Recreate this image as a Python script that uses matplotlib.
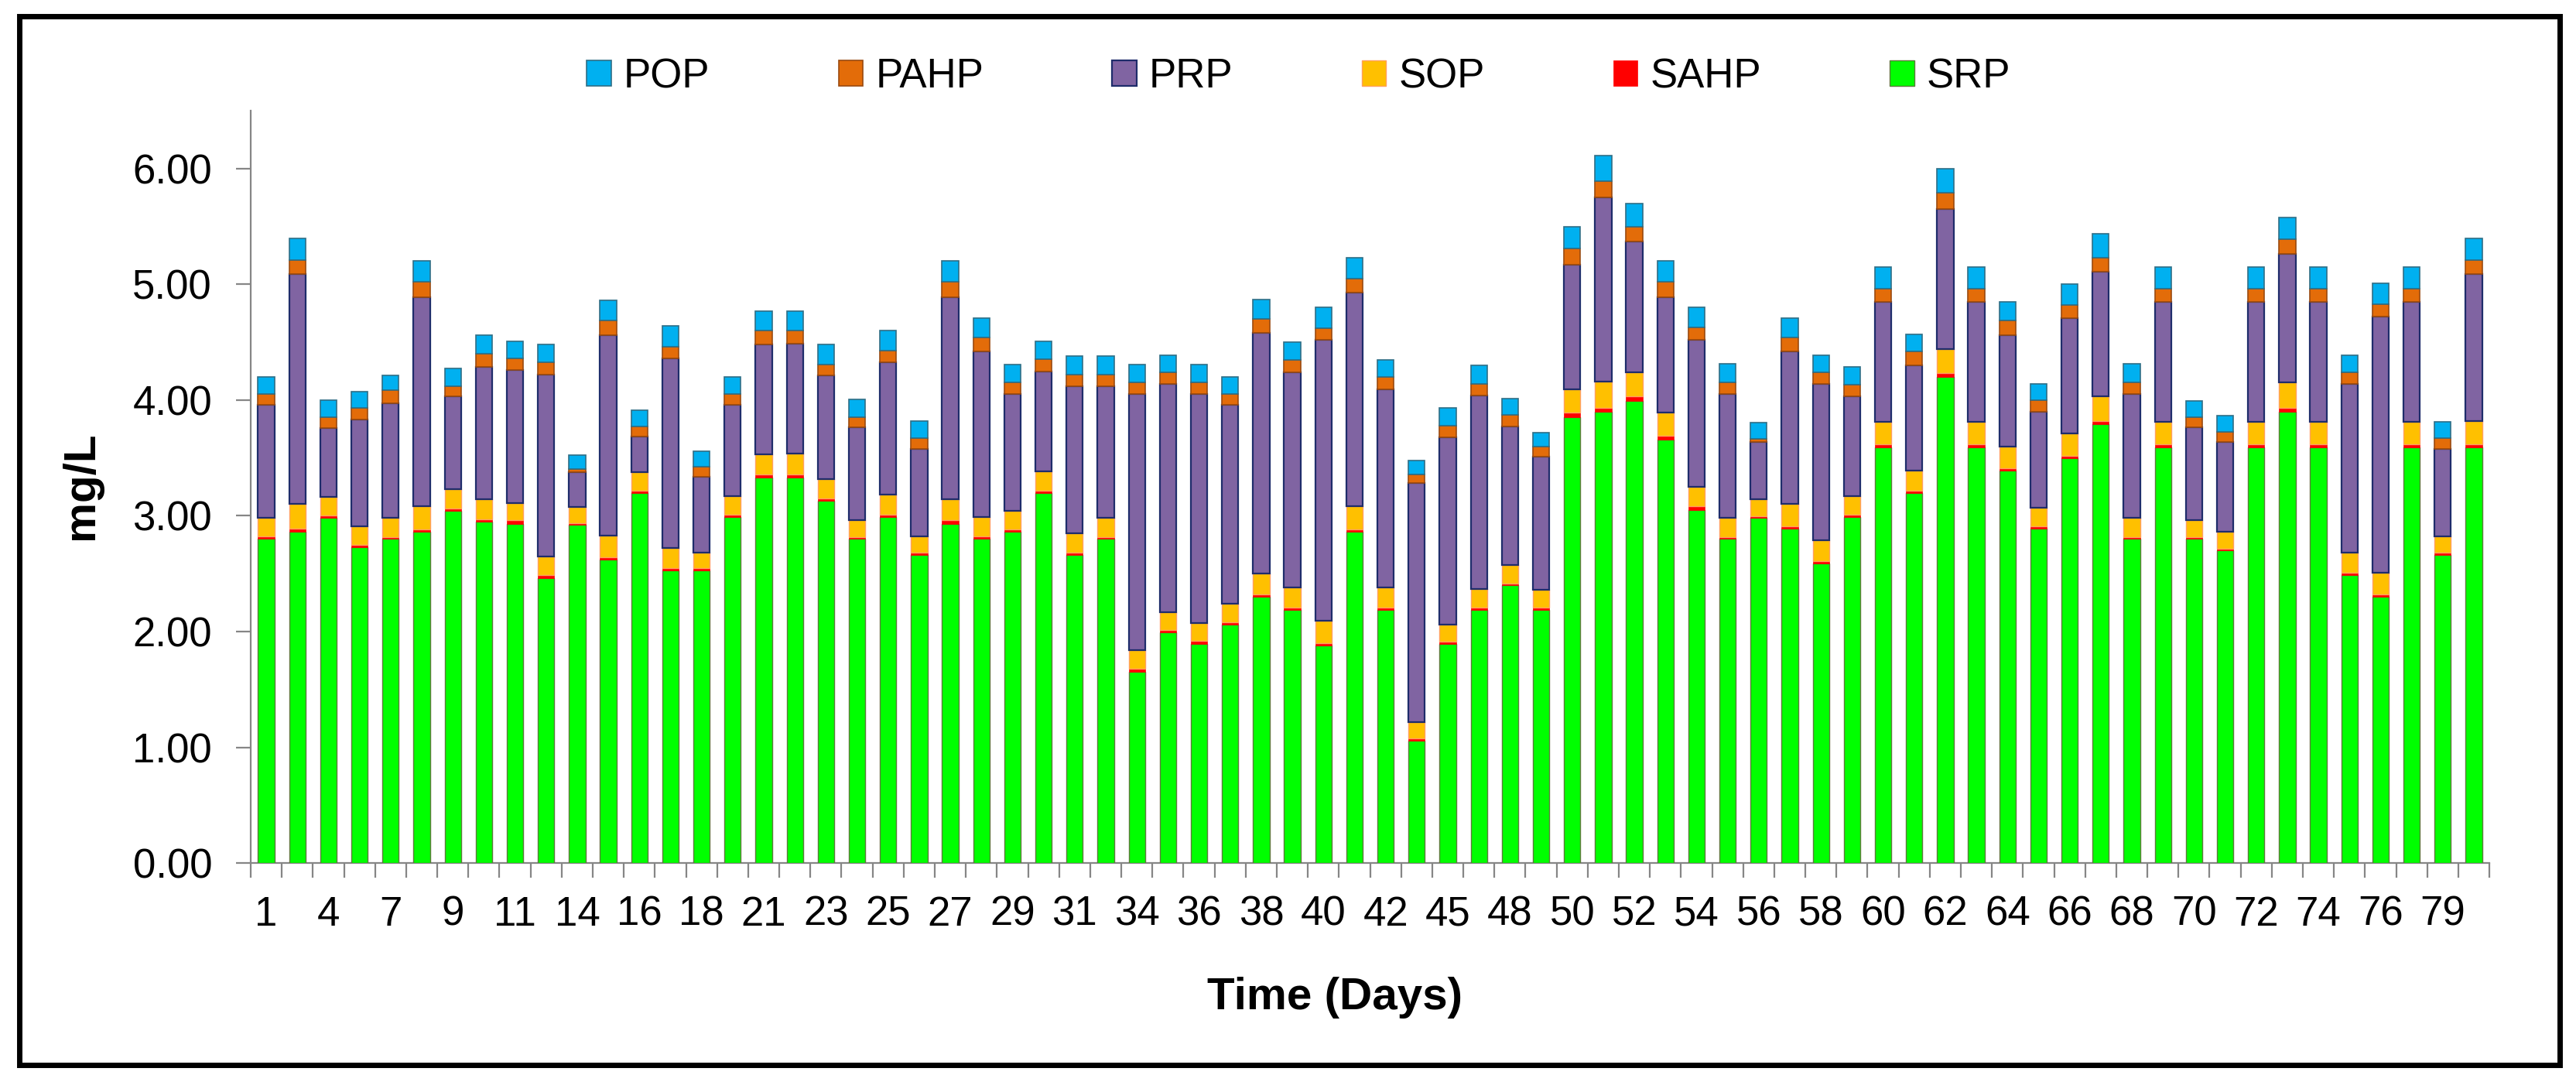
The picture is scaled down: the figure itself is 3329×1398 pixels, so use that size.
import numpy as np
import matplotlib
matplotlib.use("Agg")
import matplotlib.pyplot as plt
from matplotlib.patches import Rectangle

plt.rcParams['font.family'] = ['Liberation Sans', 'DejaVu Sans']

# sampling days (only every other one is labelled on the axis)
days = [1, 2, 4, 5, 7, 8, 9, 10, 11, 12, 14, 15, 16, 17, 18, 19, 21, 22, 23, 24,
        25, 26, 27, 28, 29, 30, 31, 32, 34, 35, 36, 37, 38, 39, 40, 41, 42, 43, 45, 46,
        48, 49, 50, 51, 52, 53, 54, 55, 56, 57, 58, 59, 60, 61, 62, 63, 64, 65, 66, 67,
        68, 69, 70, 71, 72, 73, 74, 75, 76, 77, 79, 80]

srp = [2.80, 2.86, 2.98, 2.73, 2.80, 2.86, 3.04, 2.95, 2.93, 2.46,
       2.92, 2.62, 3.20, 2.53, 2.53, 2.99, 3.33, 3.33, 3.13, 2.80,
       2.99, 2.66, 2.93, 2.80, 2.86, 3.20, 2.66, 2.80, 1.65, 1.99,
       1.89, 2.06, 2.30, 2.19, 1.88, 2.86, 2.19, 1.06, 1.89, 2.19,
       2.40, 2.19, 3.85, 3.90, 3.99, 3.66, 3.05, 2.80, 2.98, 2.89,
       2.59, 2.99, 3.59, 3.20, 4.20, 3.59, 3.39, 2.89, 3.50, 3.79,
       2.80, 3.59, 2.80, 2.70, 3.59, 3.90, 3.59, 2.49, 2.30, 3.59,
       2.66, 3.59]
sahp = [0.02, 0.03, 0.02, 0.02, 0.015, 0.02, 0.02, 0.02, 0.03, 0.03,
        0.015, 0.02, 0.015, 0.02, 0.015, 0.02, 0.03, 0.03, 0.02, 0.015,
        0.02, 0.02, 0.03, 0.02, 0.02, 0.015, 0.02, 0.015, 0.03, 0.02,
        0.03, 0.02, 0.02, 0.02, 0.02, 0.02, 0.02, 0.015, 0.02, 0.02,
        0.015, 0.02, 0.04, 0.03, 0.04, 0.03, 0.03, 0.015, 0.015, 0.02,
        0.02, 0.02, 0.03, 0.02, 0.03, 0.03, 0.02, 0.02, 0.02, 0.03,
        0.015, 0.03, 0.015, 0.015, 0.03, 0.03, 0.03, 0.02, 0.02, 0.03,
        0.02, 0.03]
sop = [0.16, 0.21, 0.16, 0.16, 0.17, 0.20, 0.17, 0.17, 0.15, 0.16,
       0.14, 0.19, 0.16, 0.17, 0.14, 0.16, 0.17, 0.18, 0.17, 0.15,
       0.17, 0.14, 0.18, 0.17, 0.16, 0.17, 0.17, 0.165, 0.16, 0.16,
       0.15, 0.16, 0.18, 0.17, 0.19, 0.20, 0.17, 0.14, 0.15, 0.16,
       0.16, 0.15, 0.20, 0.23, 0.21, 0.20, 0.17, 0.17, 0.15, 0.19,
       0.18, 0.16, 0.19, 0.17, 0.21, 0.19, 0.19, 0.16, 0.19, 0.21,
       0.17, 0.19, 0.15, 0.15, 0.19, 0.22, 0.19, 0.17, 0.19, 0.19,
       0.14, 0.20]
prp = [0.98, 1.99, 0.60, 0.92, 0.99, 1.81, 0.80, 1.15, 1.15, 1.57,
       0.30, 1.73, 0.31, 1.64, 0.65, 0.79, 0.95, 0.95, 0.89, 0.80,
       1.15, 0.76, 1.75, 1.43, 1.01, 0.86, 1.27, 1.14, 2.21, 1.97,
       1.98, 1.72, 2.08, 1.86, 2.43, 1.85, 1.71, 2.07, 1.62, 1.67,
       1.20, 1.15, 1.08, 1.59, 1.13, 1.00, 1.27, 1.07, 0.49, 1.32,
       1.35, 0.86, 1.04, 0.91, 1.21, 1.04, 0.96, 0.83, 1.00, 1.08,
       1.07, 1.04, 0.80, 0.77, 1.04, 1.11, 1.04, 1.46, 2.21, 1.04,
       0.76, 1.27]
pahp = [0.09, 0.12, 0.09, 0.10, 0.11, 0.13, 0.09, 0.11, 0.10, 0.11,
        0.03, 0.13, 0.09, 0.10, 0.09, 0.09, 0.12, 0.11, 0.10, 0.09,
        0.10, 0.09, 0.13, 0.12, 0.10, 0.11, 0.10, 0.10, 0.10, 0.10,
        0.10, 0.09, 0.12, 0.11, 0.10, 0.12, 0.11, 0.07, 0.10, 0.10,
        0.10, 0.09, 0.14, 0.14, 0.13, 0.13, 0.11, 0.10, 0.03, 0.12,
        0.10, 0.10, 0.11, 0.12, 0.14, 0.11, 0.13, 0.10, 0.11, 0.12,
        0.10, 0.11, 0.09, 0.09, 0.11, 0.13, 0.11, 0.10, 0.11, 0.11,
        0.09, 0.12]
pop = [0.15, 0.19, 0.15, 0.14, 0.13, 0.18, 0.15, 0.16, 0.15, 0.15,
       0.12, 0.17, 0.14, 0.18, 0.13, 0.15, 0.17, 0.17, 0.17, 0.15,
       0.17, 0.15, 0.18, 0.17, 0.16, 0.15, 0.16, 0.16, 0.16, 0.15,
       0.16, 0.15, 0.17, 0.15, 0.18, 0.18, 0.15, 0.12, 0.15, 0.16,
       0.14, 0.12, 0.19, 0.22, 0.20, 0.18, 0.17, 0.16, 0.14, 0.17,
       0.15, 0.16, 0.19, 0.15, 0.21, 0.19, 0.16, 0.14, 0.18, 0.21,
       0.16, 0.19, 0.14, 0.14, 0.19, 0.19, 0.19, 0.15, 0.18, 0.19,
       0.14, 0.19]

series = [("SRP", srp, "#00FF00", "#5E7A3C", 1.0),
          ("SAHP", sahp, "#FF0000", "#FF0000", 0.5),
          ("SOP", sop, "#FFC000", "#FFA060", 1.0),
          ("PRP", prp, "#8064A2", "#1F2D6B", 1.6),
          ("PAHP", pahp, "#E36C09", "#9A4A10", 1.2),
          ("POP", pop, "#00B0F0", "#2F6E86", 1.2)]

fig = plt.figure(figsize=(33.3, 13.98), dpi=100)
ax = fig.add_axes([0.0973, 0.2024, 0.8688, 0.6953])

x = np.arange(len(days))
bottom = np.zeros(len(days))
handles = []
for name, vals, fc, ec, lw in series:
    vals = np.array(vals)
    b = ax.bar(x, vals, 0.53, bottom=bottom, color=fc, edgecolor=ec,
               linewidth=lw, label=name, zorder=3)
    handles.append(b)
    bottom += vals

ax.set_xlim(-0.5, len(days) - 0.5)
ax.set_ylim(0, 6.5)
ax.set_yticks(np.arange(0, 7, 1))
ax.set_yticklabels(["%.2f" % v for v in np.arange(0, 7, 1)])

ax.set_xticks(x[::2])
ax.set_xticklabels([str(d) for d in days[::2]])
ax.set_xticks(np.arange(-0.5, len(days), 1), minor=True)

grey = "#868686"
for s in ["top", "right"]:
    ax.spines[s].set_visible(False)
for s in ["left", "bottom"]:
    ax.spines[s].set_color(grey)
    ax.spines[s].set_linewidth(1.6)

ax.tick_params(axis="x", which="major", length=0, pad=30, labelsize=38)
ax.tick_params(axis="x", which="minor", length=14, width=1.6, color=grey)
ax.tick_params(axis="y", length=14, width=1.6, color=grey, pad=22, labelsize=38)

fig.text(0.518, 0.078, "Time (Days)", fontsize=42, fontweight="bold",
         ha="center", va="center")
fig.text(0.0315, 0.551, "mg/L", fontsize=42, fontweight="bold",
         rotation=90, ha="center", va="center")

fig.legend(handles[::-1], [h.get_label() for h in handles[::-1]],
           loc="center", bbox_to_anchor=(0.504, 0.929), ncol=6, frameon=False,
           fontsize=38, handlelength=0.6, handleheight=0.6, handletextpad=0.3,
           columnspacing=3.15)

# black frame around the whole picture
fig.patches.append(Rectangle((0.0075, 0.0157), 0.986, 0.969, transform=fig.transFigure,
                             fill=False, edgecolor="black", linewidth=5))

fig.savefig("out.png", dpi=100)
